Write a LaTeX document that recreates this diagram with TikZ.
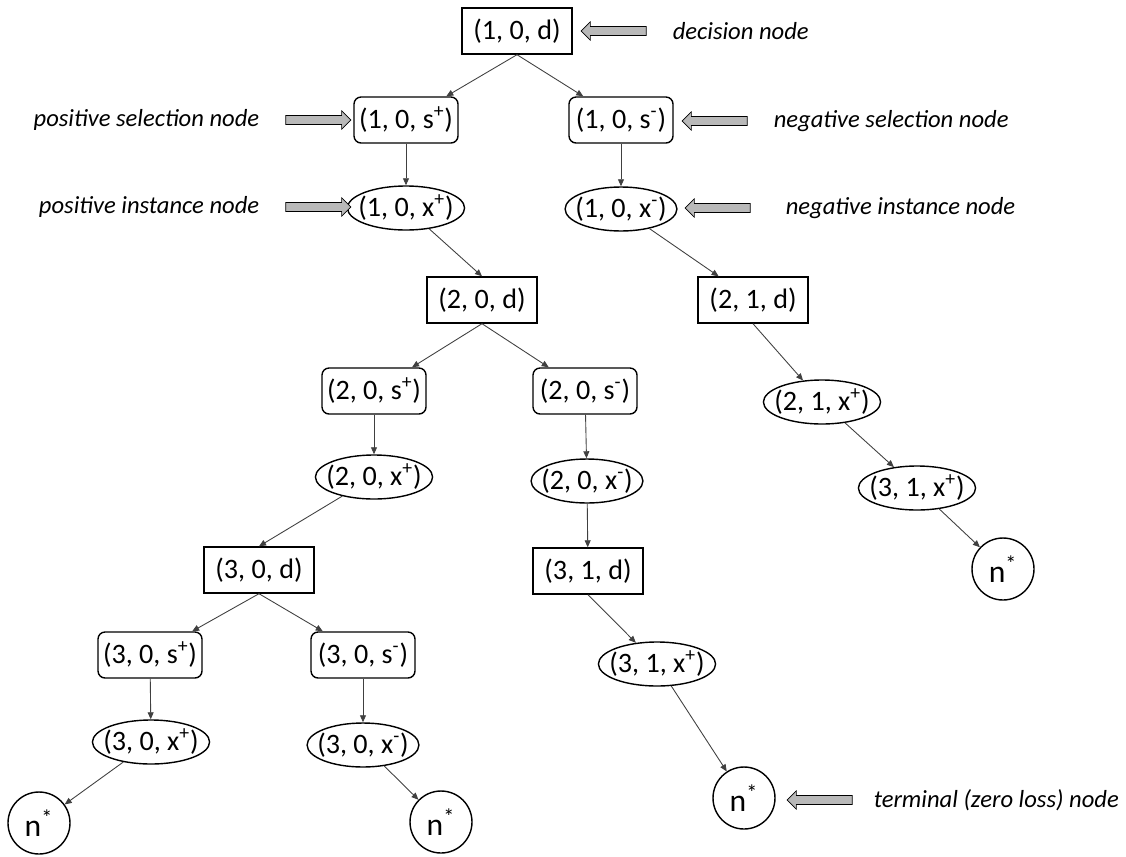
\documentclass[tikz,border=0pt]{standalone}
\usepackage{fontspec}
\setmainfont{Carlito}
\usetikzlibrary{shapes.geometric,shapes.arrows,arrows.meta,positioning}

\begin{document}
\begin{tikzpicture}[
  x=0.02cm,y=-0.02cm,
  font=\fontsize{16}{18}\selectfont,>={Triangle[length=4pt,width=3.4pt]},
  dn/.style={draw,thick,rectangle,minimum width=2.2cm,minimum height=0.92cm},
  sn/.style={draw,thick,rectangle,rounded corners=4pt,inner xsep=2pt,minimum width=2.08cm,minimum height=0.92cm},
  xn/.style={draw,thick,ellipse,inner xsep=-3.5pt,inner ysep=0pt,minimum width=2.16cm,minimum height=0.88cm},
  tn/.style={draw,thick,circle,minimum size=1.24cm,font=\fontsize{18}{20}\selectfont},
  ed/.style={->,draw=black!75,line width=0.5pt},
  blk/.style={draw,single arrow,fill=gray!55,inner sep=2.4pt,single arrow head extend=2.6pt,minimum height=1.3cm},
  lbl/.style={font=\fontsize{14}{16}\selectfont\itshape}
]
\useasboundingbox (0,0) rectangle (1126,856);

% level 1
\node[dn] (d1) at (517,31) {(1, 0, d)};
\node[sn] (s1p) at (406,120) {(1, 0, s\textsuperscript{+})};
\node[sn] (s1n) at (621,120) {(1, 0, s\textsuperscript{-})};
\node[xn] (x1p) at (406,208) {(1, 0, x\textsuperscript{+})};
\node[xn] (x1n) at (621,209) {(1, 0, x\textsuperscript{-})};

% level 2
\node[dn] (d2) at (482,300) {(2, 0, d)};
\node[dn] (d21) at (753,300) {(2, 1, d)};
\node[sn] (s2p) at (374,391) {(2, 0, s\textsuperscript{+})};
\node[sn] (s2n) at (585,391) {(2, 0, s\textsuperscript{-})};
\node[xn] (x2p) at (374,477) {(2, 0, x\textsuperscript{+})};
\node[xn] (x2n) at (587,481) {(2, 0, x\textsuperscript{-})};
\node[xn] (x21) at (822,402) {(2, 1, x\textsuperscript{+})};
\node[xn] (x31b) at (917,488) {(3, 1, x\textsuperscript{+})};
\node[tn] (n3) at (1003,569) {n\textsuperscript{*}};

% level 3
\node[dn] (d3) at (259,570) {(3, 0, d)};
\node[dn] (d31) at (588,571) {(3, 1, d)};
\node[sn] (s3p) at (150,655) {(3, 0, s\textsuperscript{+})};
\node[sn] (s3n) at (363,655) {(3, 0, s\textsuperscript{-})};
\node[xn] (x3p) at (151,742) {(3, 0, x\textsuperscript{+})};
\node[xn] (x3n) at (363,745) {(3, 0, x\textsuperscript{-})};
\node[xn] (x31) at (657,664) {(3, 1, x\textsuperscript{+})};
\node[tn] (n1) at (39,823) {n\textsuperscript{*}};
\node[tn] (n2) at (441,822) {n\textsuperscript{*}};
\node[tn] (nm) at (744,798) {n\textsuperscript{*}};

% legend arrows
\node[blk,shape border rotate=180] (ad) at (616,31) {};
\node[lbl,right=0.4cm of ad] (ld) {decision node};
\node[blk] (asp) at (316,120) {};
\node[lbl,left=0.4cm of asp] (lsp) {positive selection node};
\node[blk] (axp) at (316,207) {};
\node[lbl,left=0.4cm of axp] (lxp) {positive instance node};
\node[blk,shape border rotate=180] (asn) at (717,121) {};
\node[lbl,right=0.4cm of asn] (lsn) {negative selection node};
\node[blk,shape border rotate=180] (axn) at (720,208) {};
\node[lbl,right=0.58cm of axn] (lxn) {negative instance node};
\node[blk,shape border rotate=180] (at) at (822,800) {};
\node[lbl,right=0.3cm of at] (lt) {terminal (zero loss) node};

% edges
\draw[ed] (d1.south) -- (s1p);
\draw[ed] (d1.south) -- (s1n);
\draw[ed] (s1p) -- (x1p);
\draw[ed] (s1n) -- (x1n);
\draw[ed] (x1p) -- (d2.north);
\draw[ed] (x1n) -- (d21);
\draw[ed] (d2.south) -- (s2p);
\draw[ed] (d2.south) -- (s2n);
\draw[ed] (s2p) -- (x2p);
\draw[ed] (s2n) -- (x2n);
\draw[ed] (x2p) -- (d3.north);
\draw[ed] (x2n) -- (d31);
\draw[ed] (d21.south) -- (x21);
\draw[ed] (x21) -- (x31b);
\draw[ed] (x31b) -- (n3);
\draw[ed] (d3.south) -- (s3p);
\draw[ed] (d3.south) -- (s3n);
\draw[ed] (s3p) -- (x3p);
\draw[ed] (s3n) -- (x3n);
\draw[ed] (x3p) -- (n1);
\draw[ed] (x3n) -- (n2);
\draw[ed] (d31.south) -- (x31);
\draw[ed] (x31) -- (nm);
\end{tikzpicture}
\end{document}
